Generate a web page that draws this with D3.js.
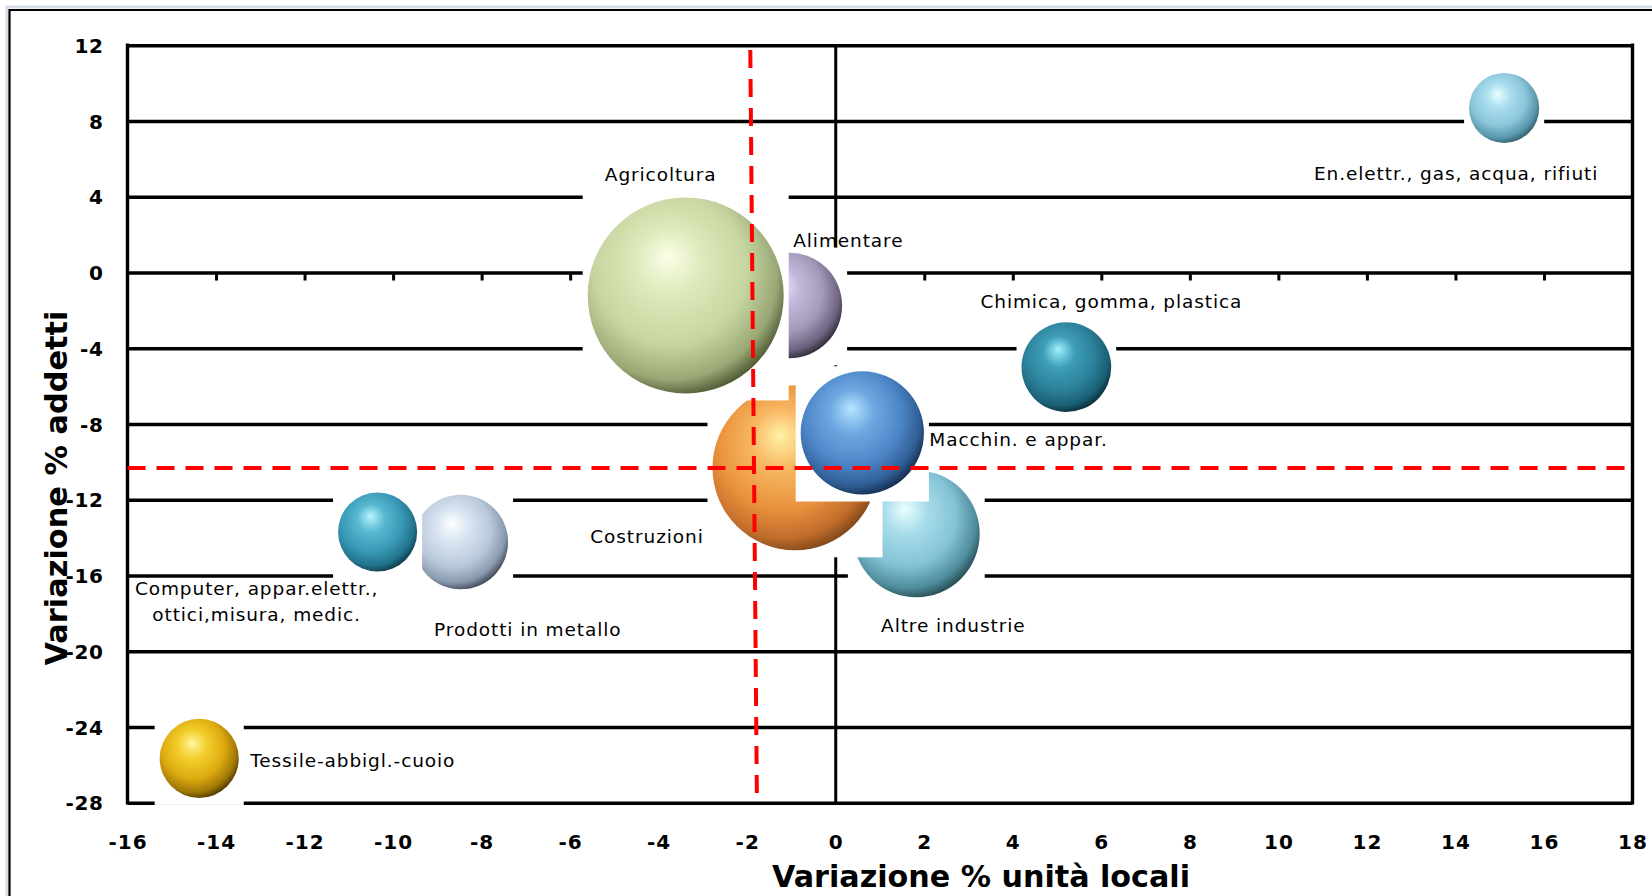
<!DOCTYPE html>
<html>
<head>
<meta charset="utf-8">
<script src="https://cdn.jsdelivr.net/npm/d3@7/dist/d3.min.js"></script>
<style>
  html, body { margin: 0; padding: 0; background: #ffffff; }
  svg { display: block; }
</style>
</head>
<body>
<svg id="chart" width="1652" height="896"></svg>
<script>
// ---------------- DATA ----------------
// Draw order (back to front)
const sectors = [
  "Altre industrie",
  "Costruzioni",
  "Alimentare",
  "Agricoltura",
  "Macchin. e appar.",
  "En.elettr., gas, acqua, rifiuti",
  "Chimica, gomma, plastica",
  "Prodotti in metallo",
  "Computer, appar.elettr., ottici,misura, medic.",
  "Tessile-abbigl.-cuoio"
];
// Variazione % unità locali (x)
const varUnita   = [1.82, -0.92, -1.05, -3.39, 0.60, 15.10, 5.21, -8.47, -10.35, -14.38];
// Variazione % addetti (y)
const varAddetti = [-13.8, -10.31, -1.74, -1.21, -8.47, 8.69, -5.00, -14.23, -13.70, -25.66];
// Bubble size (relative weight)
const bubbleSize = [3.6, 6.1, 2.5, 8.6, 3.4, 1.1, 1.8, 2.0, 1.4, 1.4];

const xTicks = [-16,-14,-12,-10,-8,-6,-4,-2,0,2,4,6,8,10,12,14,16,18];
const yTicks = [12,8,4,0,-4,-8,-12,-16,-20,-24,-28];

// Reference (average) lines
const refVertical   = [{x: -1.93, y: 11.75}, {x: -1.78, y: -28}];
const refHorizontal = [{x: -16, y: -10.32}, {x: 18, y: -10.32}];

const xTitle = "Variazione % unità locali";
const yTitle = "Variazione % addetti";

// ---------------- STYLE / LAYOUT ----------------
const palette = {
  "Altre industrie":          ["#eaffff", "#a6dcea", "#84c2d6", "#4f8c9c", "#24474f"],
  "Costruzioni":              ["#fff2a8", "#f8b863", "#ea913c", "#c06c2c", "#7a4418"],
  "Alimentare":               ["#f0e8ff", "#c4b9dc", "#a59aba", "#6f6582", "#2a2532"],
  "Agricoltura":              ["#fbffe8", "#dce9ba", "#c6d5a0", "#98a774", "#48532f"],
  "Macchin. e appar.":        ["#b6e4ff", "#6ea9e2", "#4d86c8", "#2f5e94", "#12294a"],
  "En.elettr., gas, acqua, rifiuti": ["#e8ffff", "#aadeee", "#8ac5da", "#5896aa", "#2e5a68"],
  "Chimica, gomma, plastica": ["#9ef0ff", "#3e9eb8", "#2c819a", "#1a6074", "#082a34"],
  "Prodotti in metallo":      ["#ffffff", "#d8e4f0", "#bac9db", "#8a9aae", "#3b4350"],
  "Computer, appar.elettr., ottici,misura, medic.": ["#b8f6ff", "#58b8d0", "#3899b6", "#22718a", "#0c3846"],
  "Tessile-abbigl.-cuoio":    ["#fff6a0", "#f4cf2e", "#deac10", "#a27806", "#463200"]
};

// label placement (pixel offsets from the bubble centre)
const labelLayout = {
  "Altre industrie":          {dx: 37,   dy: [92],  anchor: "middle", lines: ["Altre industrie"]},
  "Costruzioni":              {dx: -148, dy: [69],  anchor: "middle", lines: ["Costruzioni"]},
  "Alimentare":               {dx: 4,    dy: [-65], anchor: "start",  lines: ["Alimentare"]},
  "Agricoltura":              {dx: -25,  dy: [-121],anchor: "middle", lines: ["Agricoltura"]},
  "Macchin. e appar.":        {dx: 67,   dy: [7],   anchor: "start",  lines: ["Macchin. e appar."]},
  "En.elettr., gas, acqua, rifiuti": {dx: -48, dy: [66], anchor: "middle", lines: ["En.elettr., gas, acqua, rifiuti"]},
  "Chimica, gomma, plastica": {dx: 45,   dy: [-66], anchor: "middle", lines: ["Chimica, gomma, plastica"]},
  "Prodotti in metallo":      {dx: 67,   dy: [88],  anchor: "middle", lines: ["Prodotti in metallo"]},
  "Computer, appar.elettr., ottici,misura, medic.": {dx: -121, dy: [57, 83], anchor: "middle", lines: ["Computer, appar.elettr.,", "ottici,misura, medic."]},
  "Tessile-abbigl.-cuoio":    {dx: 51,   dy: [2],   anchor: "start",  lines: ["Tessile-abbigl.-cuoio"]}
};

const W = 1652, H = 896;
const plot = {left: 127.5, right: 1632.5, top: 45.3, bottom: 802.7};

const svg = d3.select("#chart");

// outer frame
svg.append("rect").attr("x", 0).attr("y", 0).attr("width", W).attr("height", H).attr("fill", "#ffffff");
svg.append("path").attr("d", `M7,${H} V7 H${W}`).attr("fill", "none").attr("stroke", "#d5dce8").attr("stroke-width", 3);
svg.append("path").attr("d", `M9.5,${H} V10 H${W}`).attr("fill", "none").attr("stroke", "#000").attr("stroke-width", 2.2);

const x = d3.scaleLinear().domain([-16, 18]).range([plot.left, plot.right]);
const y = d3.scaleLinear().domain([-28, 12]).range([plot.bottom, plot.top]);
const r = d3.scaleSqrt().domain([0, 8.6]).range([0, 98]);

const FONT = "'DejaVu Sans', Verdana, sans-serif";
const fmt = d => (d < 0 ? "-" : "") + Math.abs(d);

// horizontal gridlines (from y axis)
const grid = svg.append("g")
  .attr("transform", `translate(${plot.left},0)`)
  .call(d3.axisLeft(y).tickValues(yTicks).tickSize(-(plot.right - plot.left)).tickFormat(""));
grid.select(".domain").remove();
grid.selectAll(".tick line").attr("stroke", "#000").attr("stroke-width", 3.4);

// right and left border
svg.append("line").attr("x1", plot.right).attr("x2", plot.right).attr("y1", plot.top - 1.7).attr("y2", plot.bottom + 1.7)
  .attr("stroke", "#000").attr("stroke-width", 3.4);
svg.append("line").attr("x1", plot.left).attr("x2", plot.left).attr("y1", plot.top - 1.7).attr("y2", plot.bottom + 1.7)
  .attr("stroke", "#000").attr("stroke-width", 3.4);

// vertical axis at x = 0
svg.append("line").attr("x1", x(0)).attr("x2", x(0)).attr("y1", plot.top).attr("y2", plot.bottom)
  .attr("stroke", "#000").attr("stroke-width", 3);

// x axis at y = 0 with small ticks
const xZero = svg.append("g")
  .attr("transform", `translate(0,${y(0)})`)
  .call(d3.axisBottom(x).tickValues(xTicks.filter(v => v > -16 && v < 18 && v !== 0)).tickSize(8).tickSizeOuter(0).tickFormat(""));
xZero.select(".domain").remove();
xZero.selectAll(".tick line").attr("stroke", "#000").attr("stroke-width", 3);

// y tick labels
const yAx = svg.append("g")
  .attr("transform", `translate(${plot.left},0)`)
  .call(d3.axisLeft(y).tickValues(yTicks).tickSize(0).tickPadding(24).tickFormat(fmt));
yAx.select(".domain").remove();
yAx.selectAll("text")
  .attr("font-family", FONT).attr("font-weight", "bold").attr("font-size", 20)
  .attr("letter-spacing", 0.6).attr("fill", "#000").attr("dy", "0.36em");

// x tick labels
const xAx = svg.append("g")
  .attr("transform", `translate(0,${plot.bottom})`)
  .call(d3.axisBottom(x).tickValues(xTicks).tickSize(0).tickPadding(39).tickFormat(fmt));
xAx.select(".domain").remove();
xAx.selectAll("text")
  .attr("font-family", FONT).attr("font-weight", "bold").attr("font-size", 20)
  .attr("letter-spacing", 1).attr("fill", "#000").attr("dy", "0.36em");

// ---------------- BUBBLES ----------------
const data = sectors.map((s, i) => ({name: s, x: varUnita[i], y: varAddetti[i], size: bubbleSize[i]}));

const defs = svg.append("defs");
data.forEach((d, i) => {
  const c = palette[d.name];
  const g = defs.append("radialGradient").attr("id", "bg" + i)
    .attr("cx", "43%").attr("cy", "40%").attr("r", "63%").attr("fx", "41%").attr("fy", "30%");
  [[0, c[0]], [0.28, c[1]], [0.62, c[2]], [0.86, c[3]], [1, c[4]]].forEach(([o, col]) =>
    g.append("stop").attr("offset", o).attr("stop-color", col));
});

const bub = svg.append("g").selectAll("g").data(data).join("g")
  .attr("transform", d => `translate(${x(d.x)},${y(d.y)})`);
const PAD = 5;
bub.append("rect")
  .attr("x", d => -r(d.size) - PAD).attr("y", d => -r(d.size) - PAD)
  .attr("width", d => 2 * (r(d.size) + PAD)).attr("height", d => 2 * (r(d.size) + PAD) + 2)
  .attr("fill", "#ffffff");
bub.append("circle")
  .attr("r", d => r(d.size))
  .attr("fill", (d, i) => `url(#bg${i})`);

// ---------------- REFERENCE LINES ----------------
const line = d3.line().x(d => x(d.x)).y(d => y(d.y));
svg.append("path").attr("d", line(refVertical)).attr("fill", "none")
  .attr("stroke", "#ff0000").attr("stroke-width", 4).attr("stroke-dasharray", "18 11");
svg.append("path").attr("d", line(refHorizontal)).attr("fill", "none")
  .attr("stroke", "#ff0000").attr("stroke-width", 4).attr("stroke-dasharray", "18 11");

// ---------------- LABELS ----------------
const labels = svg.append("g");
data.forEach(d => {
  const L = labelLayout[d.name];
  L.lines.forEach((t, k) => {
    labels.append("text")
      .attr("x", x(d.x) + L.dx).attr("y", y(d.y) + L.dy[k])
      .attr("dy", "0.35em")
      .attr("text-anchor", L.anchor)
      .attr("font-family", FONT).attr("font-size", 18.5)
      .attr("letter-spacing", 0.9)
      .attr("fill", "#000")
      .text(t);
  });
});

// ---------------- AXIS TITLES ----------------
svg.append("text")
  .attr("x", 981).attr("y", 887)
  .attr("text-anchor", "middle")
  .attr("font-family", FONT).attr("font-weight", "bold").attr("font-size", 30)
  .attr("textLength", 418).attr("lengthAdjust", "spacingAndGlyphs")
  .attr("fill", "#000").text(xTitle);

svg.append("text")
  .attr("transform", "translate(67,488) rotate(-90)")
  .attr("text-anchor", "middle")
  .attr("font-family", FONT).attr("font-weight", "bold").attr("font-size", 30)
  .attr("textLength", 355).attr("lengthAdjust", "spacingAndGlyphs")
  .attr("fill", "#000").text(yTitle);
</script>
</body>
</html>
